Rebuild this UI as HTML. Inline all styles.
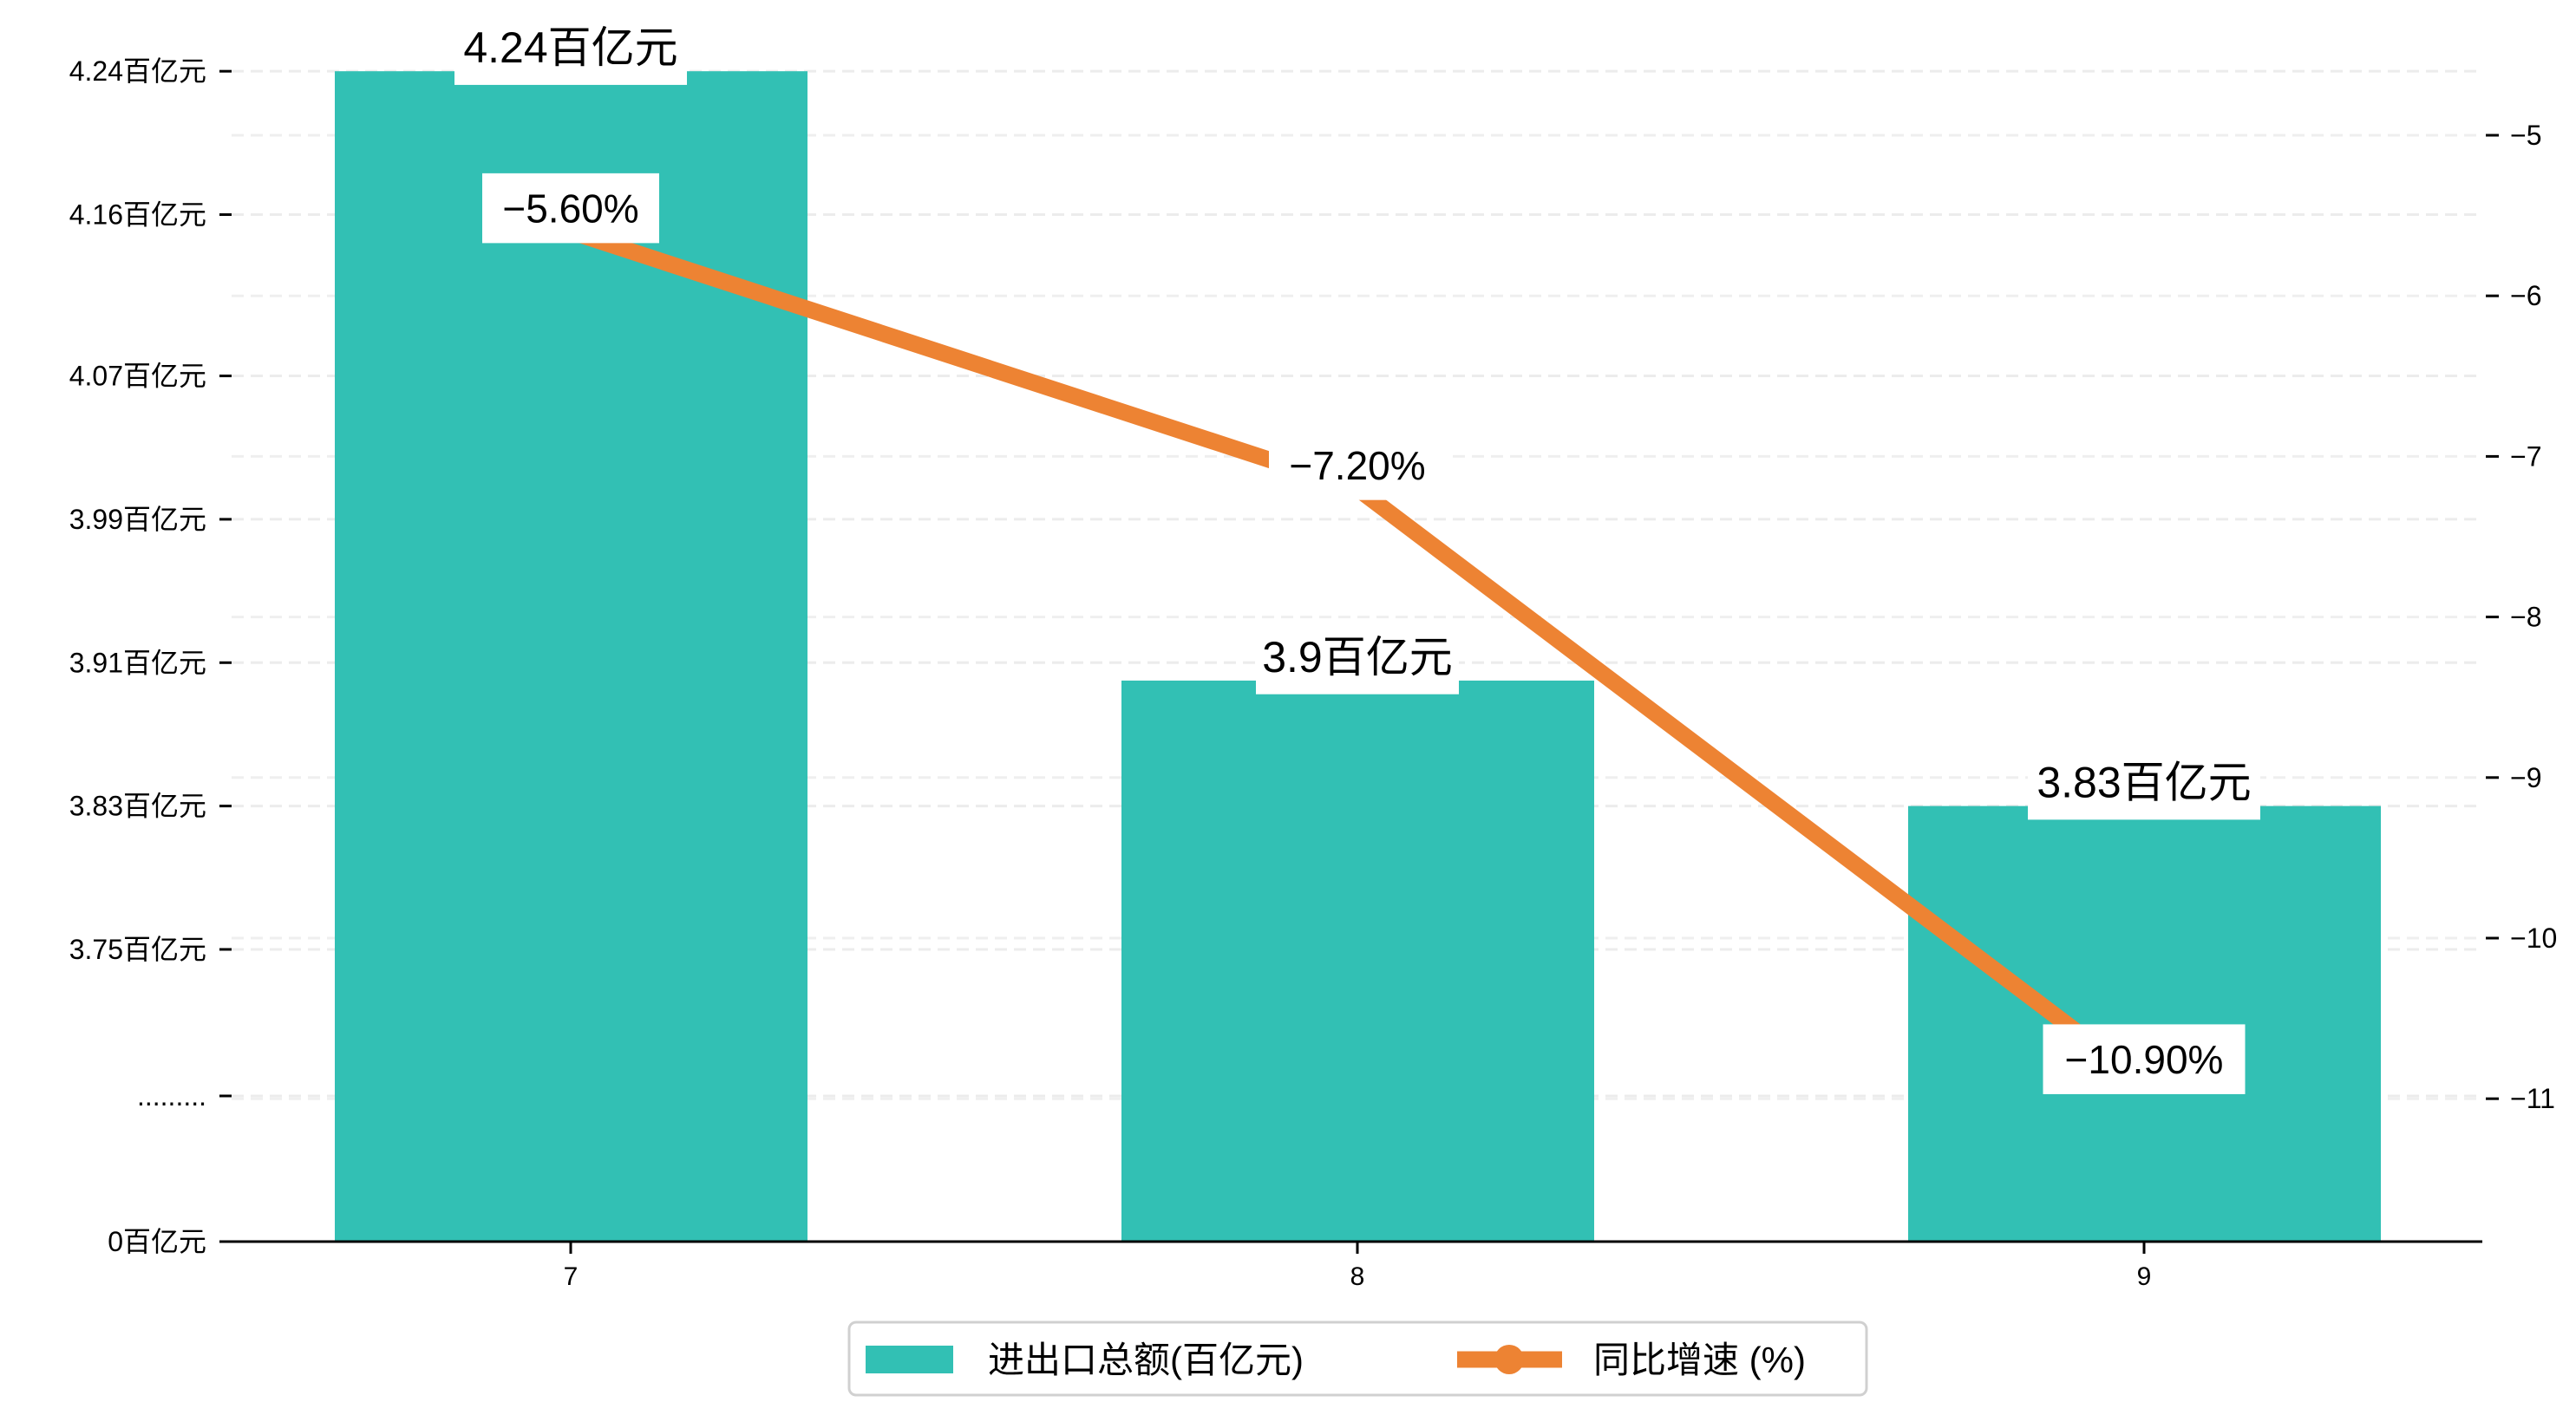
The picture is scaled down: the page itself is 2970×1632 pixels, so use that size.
<!DOCTYPE html>
<html><head><meta charset="utf-8"><style>
html,body{margin:0;padding:0;background:#fff;}
svg{display:block;font-family:"Liberation Sans","Noto Sans CJK SC",sans-serif;}
</style></head><body>
<svg id="chart" width="2970" height="1632" viewBox="0 0 2970 1632" xmlns="http://www.w3.org/2000/svg">
<g id="grid"></g>
<g id="bars"></g>
<g id="line"></g>
<g id="axes"></g>
<g id="labels"></g>
<g>
  <rect x="979" y="1525" width="1173" height="84" rx="8" fill="#fff" stroke="#d0d0d0" stroke-width="3"/>
  <rect x="998" y="1552" width="101" height="32" fill="#32c0b4"/>
  <text x="1139" y="1583" font-size="42" fill="#000">进出口总额(百亿元)</text>
  <line x1="1680" y1="1568" x2="1801" y2="1568" stroke="#ed8333" stroke-width="19"/>
  <circle cx="1740" cy="1568" r="17" fill="#ed8333"/>
  <text x="1837" y="1583" font-size="42" fill="#000">同比增速 (%)</text>
</g>
</svg>
<script>
const categories = ["7","8","9"];
const totals = [4.24, 3.9, 3.83];
const growth = [-5.6, -7.2, -10.9];
const leftTicks = [3.75, 3.83, 3.91, 3.99, 4.07, 4.16, 4.24];
const leftTickLabels = ["3.75百亿元","3.83百亿元","3.91百亿元","3.99百亿元","4.07百亿元","4.16百亿元","4.24百亿元"];
const rightTicks = [-5, -6, -7, -8, -9, -10, -11];
const totalLabels = ["4.24百亿元","3.9百亿元","3.83百亿元"];
const growthLabels = ["-5.60%","-7.20%","-10.90%"];

const NS = "http://www.w3.org/2000/svg";
const X0 = 257, X1 = 2862, BASE = 1432;
function xPos(i){ return 658 + i * 907; }
function yLeft(v){ return 1095 - (v - 3.75) * 2067; }
function yRight(v){ return 156 + (-5 - v) * 185.2; }
function mk(tag, attrs, parent){ const e = document.createElementNS(NS, tag); for (const k in attrs) e.setAttribute(k, attrs[k]); parent.appendChild(e); return e; }

const grid = document.getElementById('grid');
const axes = document.getElementById('axes');
const bars = document.getElementById('bars');
const lineG = document.getElementById('line');
const labels = document.getElementById('labels');

// left grid + ticks
leftTicks.forEach((v, i) => {
  const y = yLeft(v);
  const g = mk('line', {x1: 267, x2: 2856, y1: y, y2: y, stroke: '#ececec', 'stroke-width': 3, 'stroke-dasharray': '14 8'}, grid);
  
  
  const t = mk('line', {x1: 253, x2: 267, y1: y, y2: y, stroke: '#000', 'stroke-width': 3}, axes);
  
  
  const tx = mk('text', {x: 238, y: y + 11, 'font-size': 32, 'text-anchor': 'end'}, axes);
  
  
  tx.textContent = leftTickLabels[i];
});
// break tick and zero tick
[[1264, '.........'], [BASE, '0百亿元']].forEach(([y, s]) => {
  if (y !== BASE) {
    const g = mk('line', {x1: 267, x2: 2856, y1: y, y2: y, stroke: '#ececec', 'stroke-width': 3, 'stroke-dasharray': '14 8'}, grid);
    
    
  }
  const t = mk('line', {x1: 253, x2: 267, y1: y, y2: y, stroke: '#000', 'stroke-width': 3}, axes);
  
  
  const tx = mk('text', {x: 238, y: y + 11, 'font-size': 32, 'text-anchor': 'end'}, axes);
  
  
  tx.textContent = s;
});
// right grid + ticks
rightTicks.forEach(v => {
  const y = yRight(v);
  const g = mk('line', {x1: 267, x2: 2856, y1: y, y2: y, stroke: '#efefef', 'stroke-width': 3, 'stroke-dasharray': '14 8'}, grid);
  
  
  const t = mk('line', {x1: 2866, x2: 2881, y1: y, y2: y, stroke: '#000', 'stroke-width': 3}, axes);
  
  
  const tx = mk('text', {x: 2894, y: y + 11, 'font-size': 32}, axes);
  
  
  tx.textContent = '\u2212' + Math.abs(v);
});
// bars
totals.forEach((v, i) => {
  const y = yLeft(v);
  const r = mk('rect', {x: xPos(i) - 272, y: y, width: 545, height: BASE - y, fill: '#32c0b4'}, bars);
  
  
});
// x axis
const ax = mk('line', {x1: X0, x2: X1, y1: BASE, y2: BASE, stroke: '#000', 'stroke-width': 3}, axes);


categories.forEach((c, i) => {
  const t = mk('line', {x1: xPos(i), x2: xPos(i), y1: BASE, y2: BASE + 14, stroke: '#000', 'stroke-width': 3}, axes);
  
  
  const tx = mk('text', {x: xPos(i), y: BASE + 50, 'font-size': 30, 'text-anchor': 'middle'}, axes);
  
  
  tx.textContent = c;
});
// line
const pts = growth.map((v, i) => xPos(i) + ',' + yRight(v)).join(' ');
const pl = mk('polyline', {points: pts, fill: 'none', stroke: '#ed8333', 'stroke-width': 19, 'stroke-linejoin': 'round'}, lineG);


// labels
function boxLabel(cx, cy, text, fs, w, name){
  const h = fs * 1.75;
  const r = mk('rect', {x: cx - w / 2, y: cy - h / 2, width: w, height: h, fill: '#fff'}, labels);
  
  
  const t = mk('text', {x: cx, y: cy + fs * 0.36, 'font-size': fs, 'text-anchor': 'middle'}, labels);
  
  
  t.textContent = text;
}
totals.forEach((v, i) => {
  boxLabel(xPos(i), yLeft(v) - 28, totalLabels[i], 50, totalLabels[i].length * 34 + 30, 'bar-value-label');
});
growth.forEach((v, i) => {
  boxLabel(xPos(i), yRight(v) - 27, growthLabels[i].replace('-', '\u2212'), 46, growthLabels[i].length * 29 + 30, 'growth-value-label');
});
</script>
</body></html>
